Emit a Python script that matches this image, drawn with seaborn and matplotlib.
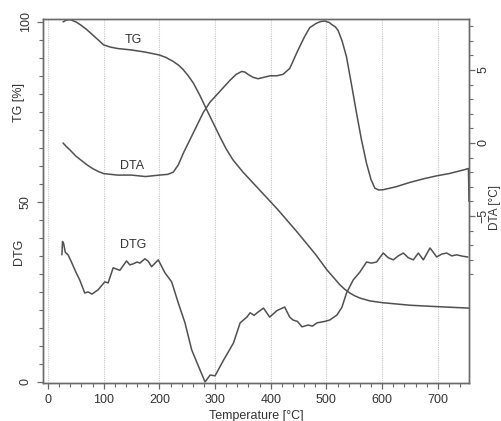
import matplotlib
matplotlib.use("Agg")
import matplotlib.pyplot as plt
import seaborn as sns
import numpy as np
import pandas as pd

# ---- data ----
tg_T = [27, 33, 40, 50, 60, 70, 80, 90, 100, 112, 125, 150, 175, 200, 212, 225,
        235, 243, 252, 261, 273, 285, 297, 309, 320, 332, 350, 368, 395, 413,
        447, 480, 501, 524, 533, 542, 551, 560, 578, 601, 650, 700, 756]
tg_v = [100, 100.5, 100.6, 100.0, 99.0, 97.8, 96.4, 95.0, 93.6, 93.0, 92.6, 92.2,
        91.6, 90.8, 90.1, 89.0, 87.9, 86.7, 85.0, 83.0, 79.5, 75.6, 71.8, 68.0,
        64.7, 61.7, 58.3, 55.3, 50.8, 47.8, 41.7, 35.5, 31.1, 27.0, 25.7, 24.7,
        23.9, 23.3, 22.5, 22.0, 21.3, 20.9, 20.5]

dta_T = [27, 33, 40, 50, 60, 70, 80, 90, 100, 125, 150, 175, 200, 215, 225, 234,
         243, 252, 261, 270, 279, 291, 303, 315, 327, 338, 348, 354, 359, 368,
         377, 388, 399, 411, 422, 434, 440, 447, 452, 461, 470, 482, 490, 497,
         505, 510, 516, 521, 528, 536, 545, 554, 563, 572, 580, 587, 594, 602,
         625, 650, 675, 698, 720, 746, 755, 756]
dta_v = [0.0, -0.25, -0.5, -0.9, -1.2, -1.5, -1.75, -1.95, -2.1, -2.2, -2.2, -2.3,
         -2.2, -2.15, -2.0, -1.5, -0.7, 0.0, 0.7, 1.4, 2.1, 2.8, 3.3, 3.8, 4.3,
         4.7, 4.9, 4.85, 4.7, 4.5, 4.4, 4.5, 4.6, 4.6, 4.7, 5.1, 5.6, 6.2, 6.6,
         7.3, 7.9, 8.2, 8.32, 8.35, 8.25, 8.1, 7.95, 7.7, 7.0, 5.9, 4.0, 2.05, 0.2,
         -1.4, -2.5, -3.1, -3.22, -3.2, -3.0, -2.7, -2.45, -2.25, -2.1, -1.85,
         -1.75, -4.0]

dtg_T = [25, 26, 28, 31, 36, 43, 50, 57, 66, 72, 79, 90, 102, 108, 117, 129, 141,
         147, 153, 160, 165, 174, 180, 186, 198, 210, 222, 234, 246, 258, 273,
         282, 291, 300, 315, 333, 345, 357, 363, 370, 378, 387, 398, 411, 425,
         434, 440, 448, 456, 467, 475, 483, 497, 506, 519, 528, 536, 548, 560,
         572, 581, 590, 602, 611, 620, 629, 638, 647, 656, 665, 674, 686, 698,
         707, 716, 725, 734, 745, 754]
dtg_v = [35.3, 39.0, 38.5, 36.0, 35.3, 33.0, 30.5, 28.3, 24.7, 25.0, 24.4, 25.6,
         27.8, 27.5, 31.7, 31.0, 33.6, 32.5, 32.8, 33.3, 33.0, 34.2, 33.5, 32.0,
         33.9, 30.3, 27.8, 21.9, 16.4, 8.9, 3.3, 0.0, 1.9, 1.7, 6.0, 10.8, 16.4,
         18.0, 19.2, 18.5, 19.5, 20.5, 18.0, 19.8, 20.8, 18.0, 17.2, 16.8, 15.3,
         15.8, 15.5, 16.4, 16.8, 17.2, 18.6, 20.8, 24.7, 28.3, 30.5, 33.3, 33.0,
         33.3, 35.8, 34.5, 33.9, 35.0, 35.8, 34.5, 33.9, 35.8, 33.9, 37.2, 34.7,
         35.5, 35.8, 35.0, 35.3, 34.9, 34.7]

x_ticks = [0, 100, 200, 300, 400, 500, 600, 700]
left_ticks = [0, 50, 100]
right_ticks = [-5, 0, 5]

# ---- style ----
sns.set_style("white")
plt.rcParams['font.family'] = ['Liberation Sans Narrow', 'Liberation Sans', 'DejaVu Sans']

LC = '#505050'
SC = '#6a6a6a'
TC = '#333333'

fig = plt.figure(figsize=(5.01, 4.21), dpi=100)
W, H = 501, 421
ax = fig.add_axes([43 / W, 1 - 383 / H, (469 - 43) / W, (383 - 19) / H])
ax2 = ax.twinx()

tg = pd.DataFrame({'T': tg_T, 'v': tg_v})
dtg = pd.DataFrame({'T': dtg_T, 'v': dtg_v})
dta = pd.DataFrame({'T': dta_T, 'v': dta_v})

sns.lineplot(data=tg, x='T', y='v', ax=ax, color=LC, lw=1.1, sort=False)
sns.lineplot(data=dtg, x='T', y='v', ax=ax, color=LC, lw=1.1, sort=False)
sns.lineplot(data=dta, x='T', y='v', ax=ax2, color=LC, lw=1.1, sort=False)

ax.set_xlim(-9, 756)
ax.set_ylim(-0.3, 100.8)
ax2.set_ylim(-16.44, 8.49)

for t in x_ticks:
    ax.axvline(t, color='#c8c8c8', lw=0.8, ls=(0, (1, 1)), zorder=0)

ax.set_xticks(x_ticks)
ax.set_xticks(np.arange(0, 757, 20), minor=True)
ax.set_yticks(left_ticks)
ax.set_yticks(np.arange(0, 101, 5), minor=True)
ax2.set_yticks(right_ticks)
ax2.set_yticks(np.arange(-9, 9, 1), minor=True)

fs = 9
ax.tick_params(axis='x', which='major', length=4, width=0.9, color=SC, labelsize=fs,
               labelcolor=TC, pad=4, direction='out', bottom=True)
ax.tick_params(axis='x', which='minor', length=3, width=0.8, color=SC, direction='out', bottom=True)
ax.tick_params(axis='y', which='major', length=4, width=0.9, color=SC, labelsize=fs,
               labelcolor=TC, pad=4, direction='out', left=True)
ax.tick_params(axis='y', which='minor', length=3, width=0.8, color=SC, direction='out', left=True)
ax2.tick_params(axis='y', which='major', length=4, width=0.9, color=SC, labelsize=fs,
                labelcolor=TC, pad=2, direction='out', right=True)
ax2.tick_params(axis='y', which='minor', length=3, width=0.8, color=SC, direction='out', right=True)

for lab in ax.get_yticklabels():
    lab.set_rotation(90)
    lab.set_va('center')
for lab in ax2.get_yticklabels():
    lab.set_rotation(90)
    lab.set_va('center')

for a in (ax, ax2):
    for s in a.spines.values():
        s.set_color(SC)
        s.set_linewidth(1.0)

ax.set_xlabel('Temperature [°C]', fontsize=fs, color=TC, labelpad=3)
ax.set_ylabel('')
ax2.set_ylabel('')

fig.text(19 / W, 1 - 103 / H, 'TG [%]', rotation=90, ha='center', va='center',
         fontsize=fs, color=TC)
fig.text(19 / W, 1 - 252 / H, 'DTG', rotation=90, ha='center', va='center',
         fontsize=fs, color=TC)
fig.text(495 / W, 1 - 208 / H, 'DTA [°C]', rotation=90, ha='center', va='center',
         fontsize=fs - 0.5, color=TC)

ax.text(153, 95, 'TG', ha='center', va='center', fontsize=fs, color=TC)
ax.text(151, 60, 'DTA', ha='center', va='center', fontsize=fs, color=TC)
ax.text(153, 38, 'DTG', ha='center', va='center', fontsize=fs, color=TC)

fig.savefig('out.png', dpi=100)
